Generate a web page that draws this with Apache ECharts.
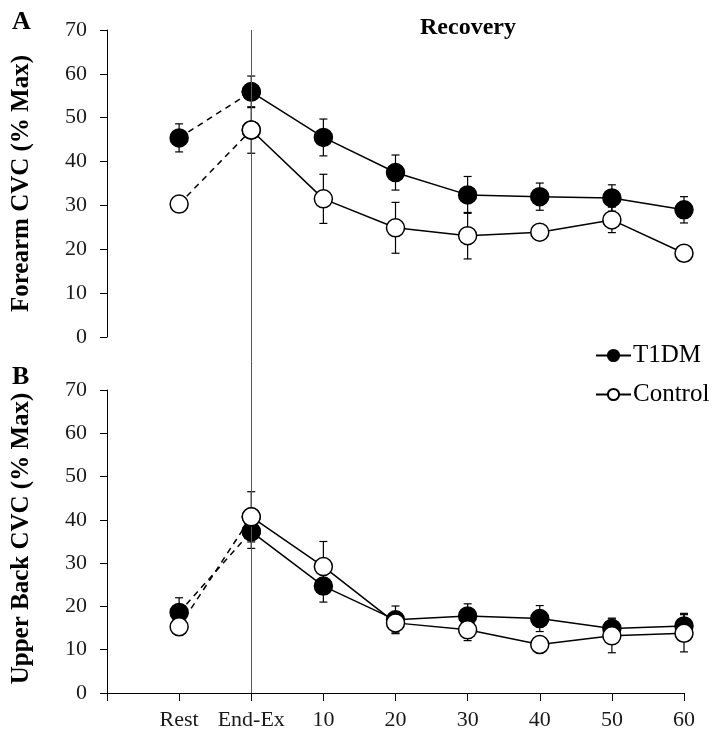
<!DOCTYPE html>
<html><head><meta charset="utf-8">
<script src="https://cdn.jsdelivr.net/npm/echarts@6/dist/echarts.min.js"></script>
<style>html,body{margin:0;padding:0;background:#fff}#c{width:713px;height:740px}</style>
</head><body><div id="c"></div>
<script>
const xTickLabels = ['', 'Rest', 'End-Ex', '10', '20', '30', '40', '50', '60'];
const xPos = [1, 2, 3, 4, 5, 6, 7, 8];
const forearmT1DM = [45.4, 55.9, 45.5, 37.5, 32.4, 32.0, 31.7, 29.0];
const forearmT1DMErr = [3.2, 3.6, 4.2, 4.0, 4.2, 3.1, 3.0, 3.0];
const forearmControl = [30.3, 47.2, 31.5, 24.9, 23.1, 23.9, 26.7, 19.1];
const forearmControlErr = [0.8, 5.3, 5.6, 5.8, 5.3, 0.8, 2.9, 0.8];
const backT1DM = [18.6, 37.3, 24.7, 16.9, 17.8, 17.2, 14.9, 15.5];
const backT1DMErr = [3.4, 3.9, 3.7, 3.2, 2.8, 3.0, 2.4, 2.9];
const backControl = [15.3, 40.7, 29.2, 16.2, 14.6, 11.2, 13.2, 13.8];
const backControlErr = [0.8, 5.8, 5.8, 2.3, 2.5, 0.8, 3.9, 4.3];
const endExPos = 2;

const FONT = 'Liberation Serif, Times New Roman, serif';
const chart = echarts.init(document.getElementById('c'), null, {renderer: 'canvas'});

function pts(vals) { return vals.map((v, i) => [xPos[i], v]); }
function errPts(vals, errs) { return vals.map((v, i) => [xPos[i], v, errs[i]]); }

function errSeries(name, vals, errs, gi) {
  return {
    type: 'custom', name: name, xAxisIndex: gi, yAxisIndex: gi, z: 1, silent: true,
    data: errPts(vals, errs),
    renderItem: function (params, api) {
      const x = api.value(0), y = api.value(1), e = api.value(2);
      const top = api.coord([x, y + e]);
      const bot = api.coord([x, y - e]);
      const st = {stroke: '#000', lineWidth: 1.2};
      return {type: 'group', children: [
        {type: 'line', shape: {x1: top[0], y1: top[1], x2: bot[0], y2: bot[1]}, style: st},
        {type: 'line', shape: {x1: top[0] - 4, y1: top[1], x2: top[0] + 4, y2: top[1]}, style: st},
        {type: 'line', shape: {x1: bot[0] - 4, y1: bot[1], x2: bot[0] + 4, y2: bot[1]}, style: st}
      ]};
    }
  };
}

function groupSeries(name, vals, errs, gi, filled, zBase) {
  const item = {color: filled ? '#000' : '#fff', borderColor: '#000', borderWidth: 1.5};
  return [
    {
      type: 'line', name: name, xAxisIndex: gi, yAxisIndex: gi, z: zBase,
      data: pts(vals).slice(1), symbol: 'circle', symbolSize: 18, showSymbol: true,
      lineStyle: {color: '#000', width: 1.5}, itemStyle: item, animation: false
    },
    {
      type: 'line', name: name, xAxisIndex: gi, yAxisIndex: gi, z: zBase - 1,
      data: pts(vals).slice(0, 2), symbol: 'circle', symbolSize: 18, showSymbol: true,
      lineStyle: {color: '#000', width: 1.5, type: [6, 5]}, itemStyle: item, animation: false
    },
    errSeries(name, vals, errs, gi)
  ];
}

const yAxisBase = {
  type: 'value', min: 0, max: 70, interval: 10,
  axisLine: {show: true, lineStyle: {color: '#000', width: 1}},
  axisTick: {show: true, length: 7, lineStyle: {color: '#000'}},
  axisLabel: {fontFamily: FONT, fontSize: 22, color: '#1a1a1a', margin: 20},
  splitLine: {show: false},
  nameLocation: 'middle', nameRotate: 90, nameGap: 73
};

const option = {
  backgroundColor: '#fff',
  animation: false,
  grid: [
    {left: 107, right: 29, top: 30, height: 307},
    {left: 107, right: 29, top: 390, height: 303},
    {left: 107, right: 29, top: 30, height: 663}
  ],
  xAxis: [
    {gridIndex: 0, type: 'value', min: 0, max: 8, interval: 1, show: false},
    {gridIndex: 1, type: 'value', min: 0, max: 8, interval: 1,
      axisLine: {show: true, onZero: false, lineStyle: {color: '#000', width: 1}},
      axisTick: {show: true, length: 8, lineStyle: {color: '#000'}},
      splitLine: {show: false},
      axisLabel: {fontFamily: FONT, fontSize: 22, color: '#1a1a1a', margin: 16,
        formatter: v => xTickLabels[v] ?? ''}},
    {gridIndex: 2, type: 'value', min: 0, max: 8, interval: 1, show: false}
  ],
  yAxis: [
    Object.assign({}, yAxisBase, {gridIndex: 0, name: 'Forearm CVC (% Max)',
      nameTextStyle: {fontFamily: FONT, fontSize: 25, fontWeight: 'bold', color: '#000'}}),
    Object.assign({}, yAxisBase, {gridIndex: 1, name: 'Upper Back CVC (% Max)',
      nameTextStyle: {fontFamily: FONT, fontSize: 25, fontWeight: 'bold', color: '#000', padding: [0, 0, 0, 6]}}),
    {gridIndex: 2, type: 'value', min: 0, max: 1, show: false}
  ],
  legend: {
    orient: 'vertical', left: 590, top: 338, itemGap: 14, itemWidth: 35, itemHeight: 14,
    data: ['T1DM', 'Control'], selectedMode: false,
    textStyle: {fontFamily: FONT, fontSize: 25, color: '#000', padding: [0, 0, 0, -3]}
  },
  graphic: [
    {type: 'text', left: 12, top: 9, style: {text: 'A', font: 'bold 26px ' + FONT, fill: '#000'}},
    {type: 'text', left: 12, top: 364, style: {text: 'B', font: 'bold 26px ' + FONT, fill: '#000'}},
    {type: 'text', left: 420, top: 16, style: {text: 'Recovery', font: 'bold 24px ' + FONT, fill: '#000'}}
  ],
  series: [
    {
      type: 'line', xAxisIndex: 2, yAxisIndex: 2, data: [], z: 0, silent: true,
      markLine: {symbol: 'none', silent: true, label: {show: false},
        lineStyle: {color: '#555', width: 1, type: 'solid'},
        data: [{xAxis: endExPos}]}
    },
    ...groupSeries('T1DM', forearmT1DM, forearmT1DMErr, 0, true, 4),
    ...groupSeries('Control', forearmControl, forearmControlErr, 0, false, 6),
    ...groupSeries('T1DM', backT1DM, backT1DMErr, 1, true, 4),
    ...groupSeries('Control', backControl, backControlErr, 1, false, 6)
  ]
};
chart.setOption(option);
</script>
</body></html>
